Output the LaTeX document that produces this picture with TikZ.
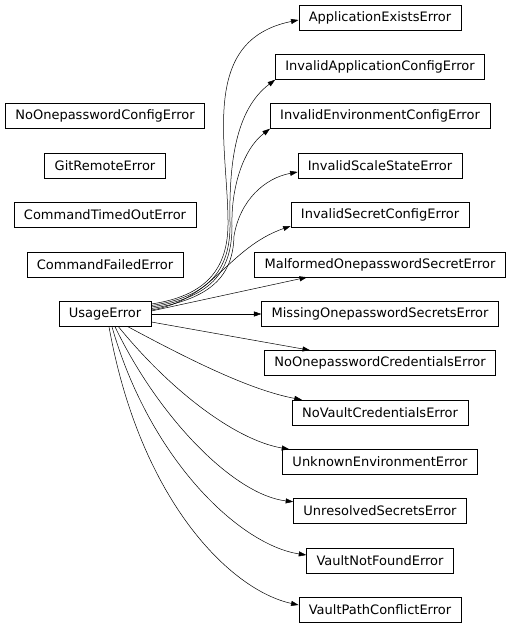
\documentclass[tikz,border=0pt]{standalone}
\usepackage{fontspec}
\setmainfont{DejaVu Sans}
\usetikzlibrary{arrows.meta}
\begin{document}
\begin{tikzpicture}[x=1pt,y=-1pt,
  cls/.style={draw=black,line width=0.5pt,rectangle,minimum height=25pt,inner xsep=10pt,inner ysep=0pt,font=\fontsize{13}{15}\selectfont,anchor=center},
  edge/.style={draw=black,line width=0.5pt,-{Triangle[length=7.5pt,width=5pt]}}]
\useasboundingbox (0,0) rectangle (512,628);
% right column
\node[cls] (A) at (380,17.5) {ApplicationExistsError};
\node[cls] (B) at (380,67) {InvalidApplicationConfigError};
\node[cls] (C) at (380,116) {InvalidEnvironmentConfigError};
\node[cls] (D) at (380,165.5) {InvalidScaleStateError};
\node[cls] (E) at (380,215) {InvalidSecretConfigError};
\node[cls] (F) at (380,264.5) {MalformedOnepasswordSecretError};
\node[cls] (G) at (380,314) {MissingOnepasswordSecretsError};
\node[cls] (H) at (380,363) {NoOnepasswordCredentialsError};
\node[cls] (I) at (380,412.5) {NoVaultCredentialsError};
\node[cls] (J) at (380,462) {UnknownEnvironmentError};
\node[cls] (K) at (380,511) {UnresolvedSecretsError};
\node[cls] (L) at (380,560.5) {VaultNotFoundError};
\node[cls] (M) at (380,609.5) {VaultPathConflictError};
% left column
\node[cls] (N1) at (105,116) {NoOnepasswordConfigError};
\node[cls] (N2) at (105,165.5) {GitRemoteError};
\node[cls] (N3) at (105,215) {CommandTimedOutError};
\node[cls] (N4) at (105,264.5) {CommandFailedError};
\node[cls] (U) at (105,314) {UsageError};
% upper edges
\draw[edge] ([yshift=10pt]U.east) .. controls (205,296) and (229,270) .. (228,220)
  .. controls (227,140) and (200,40) .. ([yshift=-2.5pt]A.west);
\draw[edge] ([yshift=8.5pt]U.east) .. controls (207,297) and (231,272) .. (230,222)
  .. controls (229,165) and (235,110) .. (B.south west);
\draw[edge] ([yshift=7pt]U.east) .. controls (209,298) and (232,274) .. (232,226)
  .. controls (231,190) and (242,150) .. (C.south west);
\draw[edge] ([yshift=5.5pt]U.east) .. controls (211,299) and (233,276) .. (234,236)
  .. controls (240,200) and (265,178) .. ([yshift=-6.5pt]D.west);
\draw[edge] ([yshift=4pt]U.east) .. controls (213,300) and (228,248) .. ([yshift=-11pt]E.west);
\draw[edge] ([yshift=3pt]U.east) -- ([xshift=-73pt]F.south);
\draw[edge] (U.east) -- (G.west);
\draw[edge] ([yshift=-8pt]U.east) -- ([xshift=-70pt]H.north);
% lower edges
\draw[edge] ([xshift=23pt]U.south) .. controls (190,360) and (250,390) .. ([xshift=10pt]I.north west);
\draw[edge] ([xshift=13.5pt]U.south) .. controls (170,390) and (235,440) .. ([xshift=7pt]J.north west);
\draw[edge] ([xshift=10pt]U.south) .. controls (160,420) and (235,495) .. ([yshift=-3.5pt]K.north west);
\draw[edge] ([xshift=7pt]U.south) .. controls (150,460) and (240,545) .. ([yshift=5.5pt]L.west);
\draw[edge] ([xshift=4pt]U.south) .. controls (140,500) and (230,590) .. ([yshift=4.5pt]M.west);
\end{tikzpicture}
\end{document}
